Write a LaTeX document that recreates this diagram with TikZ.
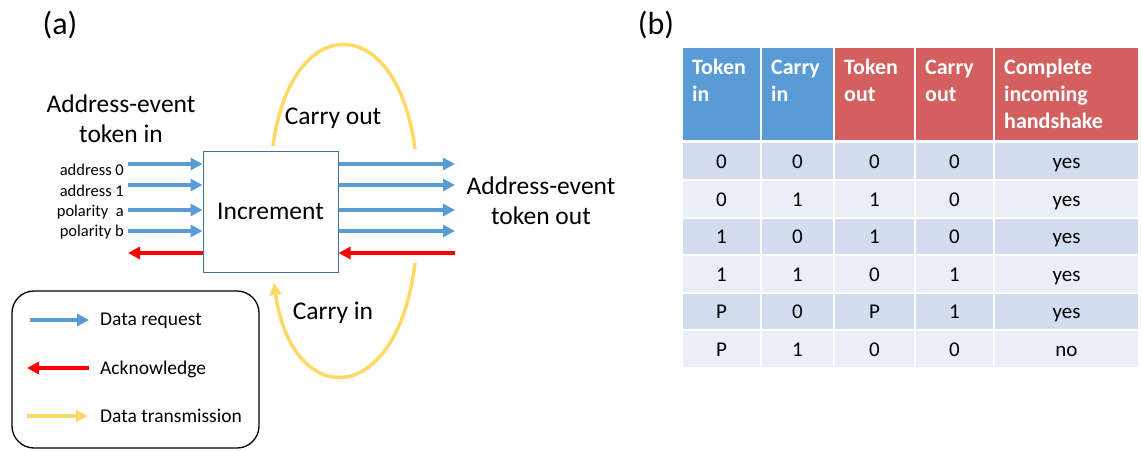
\documentclass[tikz,border=0pt]{standalone}
\usepackage{fontspec}
\setmainfont{Carlito}
\usetikzlibrary{arrows.meta}
\definecolor{reqblue}{HTML}{5B9BD5}
\definecolor{ackred}{HTML}{FF0000}
\definecolor{carrygold}{HTML}{FFD966}
\definecolor{boxedge}{HTML}{41719C}
\definecolor{hblue}{HTML}{5B9BD5}
\definecolor{hred}{HTML}{D35F5F}
\definecolor{rowA}{HTML}{D2DEEF}
\definecolor{rowB}{HTML}{EAEFF7}
\begin{document}
\begin{tikzpicture}[x=1pt,y=-1pt,
  req/.style={draw=reqblue, line width=3.5pt, -{Triangle[length=12pt,width=12pt]}},
  ack/.style={draw=ackred, line width=3.5pt, -{Triangle[length=12pt,width=12pt]}},
  carry/.style={draw=carrygold, line width=3.5pt},
  carryarrow/.style={carry, -{Triangle[length=12pt,width=12pt]}},
  biglabel/.style={font=\fontsize{25.5}{30}\selectfont, align=center, inner sep=0pt},
  panel/.style={font=\fontsize{32}{38}\selectfont, inner sep=0pt},
  wire/.style={font=\fontsize{16.5}{19}\selectfont, inner sep=0pt, anchor=base east},
  legtext/.style={font=\fontsize{19.5}{23}\selectfont, inner sep=0pt, anchor=west},
  hdr/.style={font=\fontsize{22}{27}\selectfont\bfseries, text=white, align=left, inner sep=0pt, anchor=base west},
  cell/.style={font=\fontsize{21}{25}\selectfont, inner sep=0pt, anchor=base}]
\useasboundingbox (0,0) rectangle (1142,450);

% panel labels
\node[panel] (pa) at (60,25) {(a)};
\node[panel] (pb) at (656,25) {(b)};

% ---------- (a) increment block ----------
\node[draw=boxedge, line width=1pt, minimum width=135pt, minimum height=121pt,
      font=\fontsize{25.5}{30}\selectfont] (inc) at (270.5,211.5) {Increment};

\node[biglabel] (tin) at (121,119) {Address-event\\token in};
\node[biglabel] (tout) at (541,201) {Address-event\\token out};

% incoming request lines
\coordinate (i0) at (128,164);
\coordinate (i1) at (128,185);
\coordinate (i2) at (128,210);
\coordinate (i3) at (128,231);
\coordinate (i4) at (128,253);
\foreach \k in {0,1,2,3} \draw[req] (i\k) -- (i\k -| inc.west);
\draw[ack] (i4 -| inc.west) -- (i4);

\node[wire] (w0) at (124,175) {address 0};
\node[wire] (w1) at (124,196) {address 1};
\node[wire] (w2) at (124,216) {polarity~ a};
\node[wire] (w3) at (124,236) {polarity b};

% outgoing request lines
\coordinate (o0) at (455,164);
\coordinate (o1) at (455,185);
\coordinate (o2) at (455,210);
\coordinate (o3) at (455,231);
\coordinate (o4) at (455,253);
\foreach \k in {0,1,2,3} \draw[req] (o\k -| inc.east) -- (o\k);
\draw[ack] (o4) -- (o4 -| inc.east);

% carry loops
\coordinate (cotail) at (273,146);
\coordinate (cohead) at (415,149);
\coordinate (citail) at (415,263);
\coordinate (cihead) at (274,283);
\draw[carry] (cotail) .. controls (291,10) and (397,10) .. (cohead);
\draw[carryarrow] (citail) .. controls (397,410) and (292,410) .. (cihead);
\node[biglabel] (cout) at (333,118) {Carry out};
\node[biglabel] (cin) at (333,313) {Carry in};

% legend
\node[draw, line width=1.3pt, rounded corners=22pt, minimum width=247pt,
      minimum height=157pt] (leg) at (135.5,369.5) {};
\coordinate (l1a) at (30,320);  \coordinate (l1b) at (89,320);
\coordinate (l2a) at (89,368);  \coordinate (l2b) at (27,368);
\coordinate (l3a) at (27,416);  \coordinate (l3b) at (88,416);
\draw[req] (l1a) -- (l1b);
\draw[ack] (l2a) -- (l2b);
\draw[carryarrow] (l3a) -- (l3b);
\node[legtext] (t1) at (100,321) {Data request};
\node[legtext] (t2) at (100,369) {Acknowledge};
\node[legtext] (t3) at (100,416) {Data transmission};

% ---------- (b) truth table ----------
% header cells; the text node sits on the baseline of its last line
\foreach \l/\r/\c/\base/\txt [count=\i] in
  {683/760/hblue/101/{Token\\in}, 762/833/hblue/101/{Carry\\in},
   835/914/hred/101/{Token\\out}, 916/993/hred/101/{Carry\\out},
   995/1138/hred/128/{Complete\\incoming\\handshake}}
{
  \fill[\c] (\l,48) rectangle (\r,140);
  \node[hdr] (h\i) at (\l+9,\base) {\txt};
}

\foreach \t/\b/\c/\va/\vb/\vc/\vd/\ve [count=\j] in
  {143/179/rowA/0/0/0/0/yes,
   181/217/rowB/0/1/1/0/yes,
   219/254/rowA/1/0/1/0/yes,
   256/292/rowB/1/1/0/1/yes,
   294/329/rowA/P/0/P/1/yes,
   331/367/rowB/P/1/0/0/no}
{
  \foreach \l/\r in {683/760, 762/833, 835/914, 916/993, 995/1138}
    \fill[\c] (\l,\t) rectangle (\r,\b);
  \node[cell] (r\j c1) at (721.5,{(\t+\b)/2+7}) {\va};
  \node[cell] (r\j c2) at (797.5,{(\t+\b)/2+7}) {\vb};
  \node[cell] (r\j c3) at (874.5,{(\t+\b)/2+7}) {\vc};
  \node[cell] (r\j c4) at (954.5,{(\t+\b)/2+7}) {\vd};
  \node[cell] (r\j c5) at (1066.5,{(\t+\b)/2+7}) {\ve};
}
\end{tikzpicture}
\end{document}
